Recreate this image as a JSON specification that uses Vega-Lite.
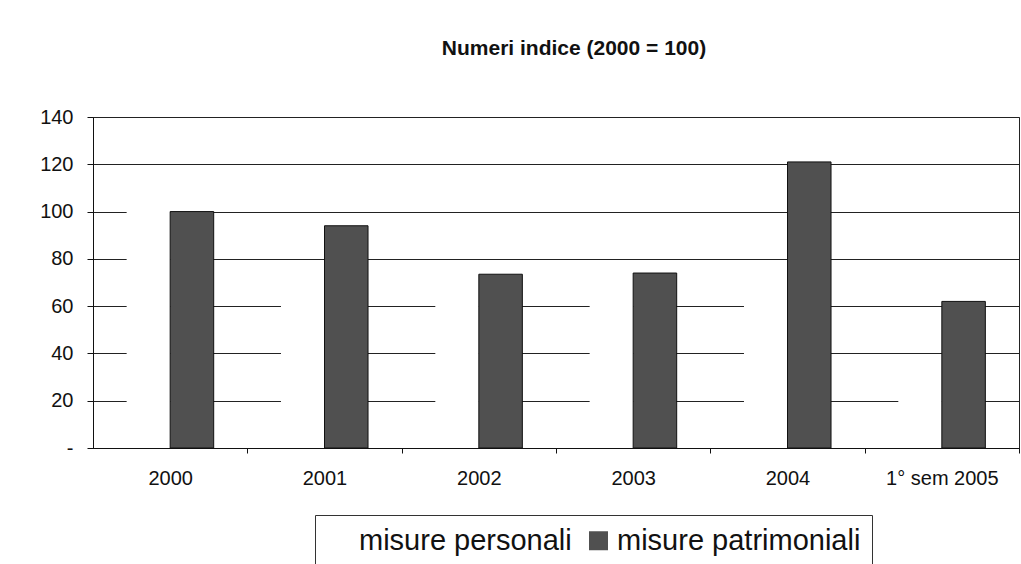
{
  "$schema": "https://vega.github.io/schema/vega-lite/v6.json",
  "width": 926,
  "height": 331,
  "autosize": "none",
  "padding": {"left": 93, "top": 117, "right": 2, "bottom": 116},
  "background": "white",
  "title": {
    "text": "Numeri indice (2000 = 100)",
    "font": "Liberation Sans",
    "fontSize": 21,
    "fontWeight": "bold",
    "color": "#111",
    "anchor": "middle",
    "dx": 18,
    "offset": 57,
    "dy": 9
  },
  "data": {
    "values": [
      {"periodo": "2000", "serie": "misure personali", "valore": 100},
      {"periodo": "2000", "serie": "misure patrimoniali", "valore": 100},
      {"periodo": "2001", "serie": "misure personali", "valore": 70},
      {"periodo": "2001", "serie": "misure patrimoniali", "valore": 94},
      {"periodo": "2002", "serie": "misure personali", "valore": 68},
      {"periodo": "2002", "serie": "misure patrimoniali", "valore": 73.5},
      {"periodo": "2003", "serie": "misure personali", "valore": 68},
      {"periodo": "2003", "serie": "misure patrimoniali", "valore": 74},
      {"periodo": "2004", "serie": "misure personali", "valore": 70},
      {"periodo": "2004", "serie": "misure patrimoniali", "valore": 121},
      {"periodo": "1° sem 2005", "serie": "misure personali", "valore": 30},
      {"periodo": "1° sem 2005", "serie": "misure patrimoniali", "valore": 62}
    ]
  },
  "mark": {"type": "bar"},
  "encoding": {
    "x": {
      "field": "periodo",
      "type": "nominal",
      "sort": ["2000", "2001", "2002", "2003", "2004", "1° sem 2005"],
      "scale": {"paddingInner": 0.436, "paddingOuter": 0.218},
      "axis": {
        "title": null,
        "labelAngle": 0,
        "labelFont": "Liberation Sans",
        "labelFontSize": 20,
        "labelColor": "#111",
        "labelPadding": 15,
        "tickOffset": 77,
        "labelOffset": -77,
        "tickSize": 5,
        "tickColor": "#111",
        "domainColor": "#111",
        "grid": false
      }
    },
    "xOffset": {
      "field": "serie",
      "sort": ["misure personali", "misure patrimoniali"],
      "scale": {"paddingInner": 0, "paddingOuter": 0}
    },
    "y": {
      "field": "valore",
      "type": "quantitative",
      "scale": {"domain": [0, 140], "nice": false},
      "axis": {
        "title": null,
        "values": [0, 20, 40, 60, 80, 100, 120, 140],
        "labelExpr": "datum.value == 0 ? '-' : datum.label",
        "labelFont": "Liberation Sans",
        "labelFontSize": 20,
        "labelColor": "#111",
        "labelPadding": 14,
        "tickSize": 6,
        "tickColor": "#111",
        "domainColor": "#111",
        "grid": true,
        "gridColor": "#222",
        "gridWidth": 1
      }
    },
    "fill": {
      "field": "serie",
      "type": "nominal",
      "scale": {
        "domain": ["misure personali", "misure patrimoniali"],
        "range": ["white", "#505050"]
      },
      "legend": {
        "title": null,
        "orient": "none",
        "legendX": 222,
        "legendY": 398,
        "direction": "horizontal",
        "labelFont": "Liberation Sans",
        "labelFontSize": 29,
        "labelColor": "#111",
        "labelLimit": 0,
        "symbolType": "square",
        "symbolSize": 361,
        "symbolStrokeWidth": 0,
        "labelOffset": 4,
        "columnPadding": 12,
        "padding": 11,
        "strokeColor": "#333",
        "fillColor": "white"
      }
    },
    "stroke": {
      "field": "serie",
      "type": "nominal",
      "scale": {
        "domain": ["misure personali", "misure patrimoniali"],
        "range": ["transparent", "#111"]
      },
      "legend": null
    }
  },
  "config": {
    "view": {"stroke": "#222", "strokeWidth": 1}
  }
}
